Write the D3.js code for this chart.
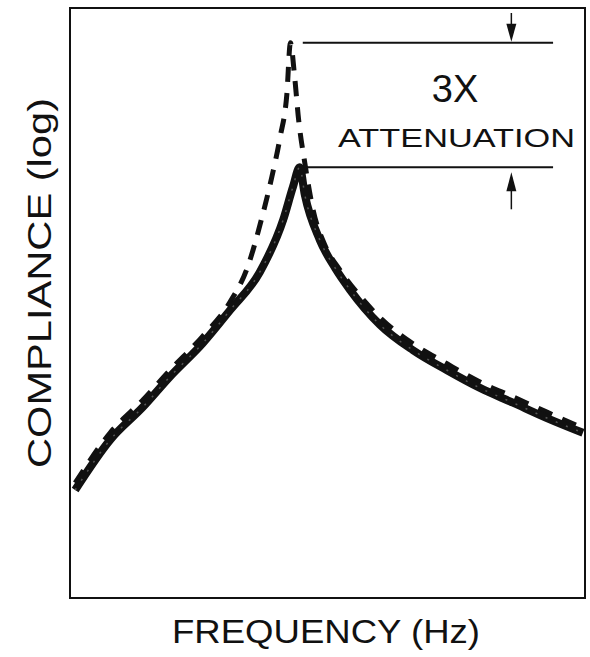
<!DOCTYPE html>
<html>
<head>
<meta charset="utf-8">
<script src="https://cdn.jsdelivr.net/npm/d3@7"></script>
<style>
  body { margin: 0; background: #fff; }
  text { font-family: "Liberation Sans", Arial, sans-serif; fill: #111; }
</style>
</head>
<body>
<div id="chart"></div>
<script>
// frequency position (arbitrary, 0-100) and log compliance (arbitrary, 0-100)
const solidFreq = [1, 7.8, 14.2, 19.4, 25.8, 31.1, 36.9, 41.4, 43.3, 44.6, 45.6, 48.5, 51.5, 54.4, 60.2, 66.6, 73.2, 79.6, 86.0, 92.6, 99.6];
const solidComp = [18.3, 26.8, 32.4, 37.5, 43.2, 48.8, 55.3, 64.1, 69.7, 73.0, 68.3, 60.7, 55.9, 52.2, 46.3, 42.0, 38.6, 35.6, 33.1, 30.5, 28.0];

const dashFreq = [1, 7.8, 14.2, 19.4, 25.8, 31.1, 34.4, 37.3, 39.2, 40.8, 42.1, 42.8, 43.6, 44.4, 45.6, 47.2, 49.5, 52.4, 56.3, 60.2, 66.6, 73.2, 79.6, 86.0, 92.6, 99.6];
const dashComp = [19.5, 28.0, 33.6, 38.6, 44.4, 50.2, 55.9, 64.6, 71.4, 78.1, 85.3, 94.1, 88.5, 81.0, 73.7, 65.8, 59.8, 55.6, 51.2, 47.5, 43.1, 39.7, 36.6, 34.1, 31.5, 28.8];

const xLabel = "FREQUENCY (Hz)";
const yLabel = "COMPLIANCE (log)";
const noteBig = "3X";
const noteSmall = "ATTENUATION";

const width = 590, height = 657;
const margin = { top: 8, left: 70, bottom: 59, right: 5 };
const iwidth = width - margin.left - margin.right;
const iheight = height - margin.top - margin.bottom;

const svg = d3.select("#chart").append("svg")
  .attr("width", width)
  .attr("height", height);

const g = svg.append("g").attr("transform", `translate(${margin.left},${margin.top})`);

const x = d3.scaleLinear().domain([0, 100]).range([0, iwidth]);
const y = d3.scaleLinear().domain([0, 100]).range([iheight, 0]);

// frame
g.append("rect")
  .attr("x", 0).attr("y", 0)
  .attr("width", iwidth).attr("height", iheight)
  .attr("fill", "none")
  .attr("stroke", "#111")
  .attr("stroke-width", 2);

const line = d3.line()
  .x(d => x(d[0]))
  .y(d => y(d[1]))
  .curve(d3.curveMonotoneX);

const solid = solidFreq.map((f, i) => [f, solidComp[i]]);
const dashed = dashFreq.map((f, i) => [f, dashComp[i]]);

g.append("path")
  .datum(dashed)
  .attr("d", line)
  .attr("fill", "none")
  .attr("stroke", "#111")
  .attr("stroke-width", 5)
  .attr("stroke-dasharray", "15,11");

g.append("path")
  .datum(solid)
  .attr("d", line)
  .attr("fill", "none")
  .attr("stroke", "#111")
  .attr("stroke-width", 8)
  .attr("stroke-linejoin", "round");

g.append("path")
  .datum(solid)
  .attr("d", line)
  .attr("fill", "none")
  .attr("stroke", "#555")
  .attr("stroke-width", 1.5)
  .attr("stroke-dasharray", "2,9");

// attenuation markers
const topLevel = d3.max(dashComp);
const lowLevel = d3.max(solidComp);
const arrowX = x(85.7);

g.append("line")
  .attr("x1", x(45.2)).attr("x2", x(93.8))
  .attr("y1", y(topLevel)).attr("y2", y(topLevel))
  .attr("stroke", "#111").attr("stroke-width", 2);
g.append("line")
  .attr("x1", x(46)).attr("x2", x(93.8))
  .attr("y1", y(lowLevel)).attr("y2", y(lowLevel))
  .attr("stroke", "#111").attr("stroke-width", 2);

// top arrow pointing down
g.append("line")
  .attr("x1", arrowX).attr("x2", arrowX)
  .attr("y1", 5).attr("y2", y(topLevel) - 6)
  .attr("stroke", "#111").attr("stroke-width", 1.5);
g.append("path")
  .attr("d", `M${arrowX - 5},${y(topLevel) - 19} L${arrowX + 5},${y(topLevel) - 19} L${arrowX},${y(topLevel) - 1} Z`)
  .attr("fill", "#111");

// bottom arrow pointing up
g.append("line")
  .attr("x1", arrowX).attr("x2", arrowX)
  .attr("y1", y(lowLevel) + 10).attr("y2", y(lowLevel) + 42)
  .attr("stroke", "#111").attr("stroke-width", 1.5);
g.append("path")
  .attr("d", `M${arrowX - 5},${y(lowLevel) + 24} L${arrowX + 5},${y(lowLevel) + 24} L${arrowX},${y(lowLevel) + 5} Z`)
  .attr("fill", "#111");

svg.append("text")
  .attr("x", 455).attr("y", 102)
  .attr("text-anchor", "middle")
  .attr("font-size", 38)
  .text(noteBig);

svg.append("text")
  .attr("x", 338).attr("y", 147)
  .attr("font-size", 25)
  .attr("textLength", 237)
  .attr("lengthAdjust", "spacingAndGlyphs")
  .text(noteSmall);

// axis titles
svg.append("text")
  .attr("x", 172).attr("y", 643)
  .attr("font-size", 33)
  .attr("textLength", 308)
  .attr("lengthAdjust", "spacingAndGlyphs")
  .text(xLabel);

svg.append("text")
  .attr("transform", "translate(51,468) rotate(-90)")
  .attr("font-size", 34)
  .attr("textLength", 370)
  .attr("lengthAdjust", "spacingAndGlyphs")
  .text(yLabel);
</script>
</body>
</html>
